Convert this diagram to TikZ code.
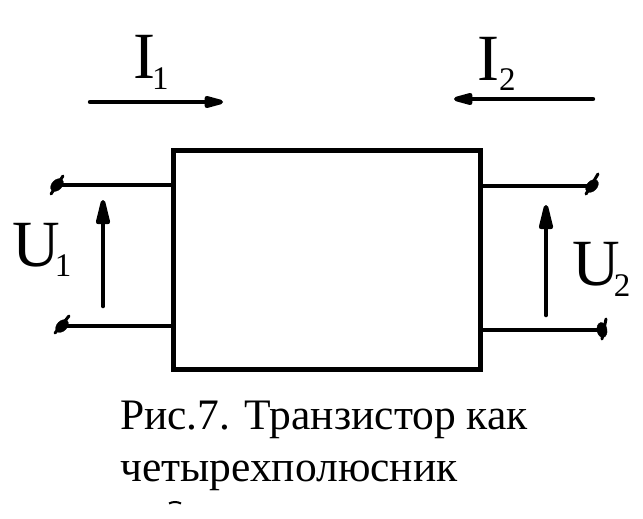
\documentclass[tikz,border=0pt]{standalone}
\usepackage{fontspec}
\setmainfont{Liberation Serif}
\usetikzlibrary{arrows.meta}
\usetikzlibrary{shapes.geometric}
\newcommand{\lowidx}[3]{\hspace{#1}\raisebox{#2}{\fontsize{33}{33}\selectfont #3}}
\tikzset{
	wire/.style={line width=4.4pt},
	stub/.style={line width=3pt,line cap=round},
	flow/.style={line width=4.6pt,line cap=round,-{Triangle[round,length=33pt,width=14pt]}},
	current/.style={line width=4.4pt,line cap=round,-{Triangle[round,length=26pt,width=12pt]}},
	clamp/.style={draw,fill,ellipse,inner sep=0pt,minimum width=15pt,minimum height=10pt},
	symb/.style={font=\fontsize{66}{66}\selectfont,inner sep=0pt,anchor=base west},
	caption/.style={font=\fontsize{43.5}{43.5}\selectfont,inner sep=0pt,anchor=base west},
}
\begin{document}
\begin{tikzpicture}[x=1pt,y=-1pt]
		\useasboundingbox (0,0) rectangle (643,519);
		% box
		\node (box) [draw,line width=5pt,minimum width=307pt,minimum height=219.5pt,inner sep=0pt] at (327,259.75) {};
		% clamps left
		\node (ul) [clamp,rotate=45] at (57,185) {};
		\node (dl) [clamp,rotate=45] at (62,326) {};
		\draw [wire] (ul.center) -- (box.west |- ul.center);
		\draw [wire] (dl.center) -- (box.west |- dl.center);
		\draw [stub] (51,194) -- (63,176);
		\draw [stub] (55,333) -- (69,316);
		% clamps right
		\node (ur) [clamp,rotate=45] at (592,186) {};
		\node (dr) [clamp,rotate=100] at (602,330) {};
		\draw [wire] (box.east |- ur.center) -- (ur.center);
		\draw [wire] (box.east |- dr.center) -- (dr.center);
		\draw [stub] (586,194) -- (598,174);
		\draw [stub] (606,319) -- (602,339);
		% voltage
		\coordinate (u1a) at (103,306);
		\coordinate (u1b) at (103,200);
		\coordinate (u2a) at (546,315);
		\coordinate (u2b) at (546,205);
		\draw [flow] (u1a) -- (u1b);
		\draw [flow] (u2a) -- (u2b);
		% current
		\coordinate (i1a) at (90,102);
		\coordinate (i1b) at (223,102);
		\coordinate (i2a) at (593,99);
		\coordinate (i2b) at (454,99);
		\draw [current] (i1a) -- (i1b);
		\draw [current] (i2a) -- (i2b);
		% labels
		\node (li1) [symb] at (133,79) {I\lowidx{-3pt}{-11pt}{1}};
		\node (li2) [symb] at (477,81) {I\lowidx{0pt}{-10pt}{2}};
		\node (lu1) [symb] at (12,266) {U\lowidx{-5pt}{-10pt}{1}};
		\node (lu2) [symb] at (572,285) {U\lowidx{-6pt}{-11pt}{2}};
		% text
		\node (cap1) [caption] at (120,429) {Рис.7. Транзистор как};
		\node (cap2) [caption] at (120,481) {четырехполюсник};
		\draw [line width=2pt] (169,503.5) .. controls (173,501.5) and (177,501.5) .. (181,503.5);
	\end{tikzpicture}
\end{document}
